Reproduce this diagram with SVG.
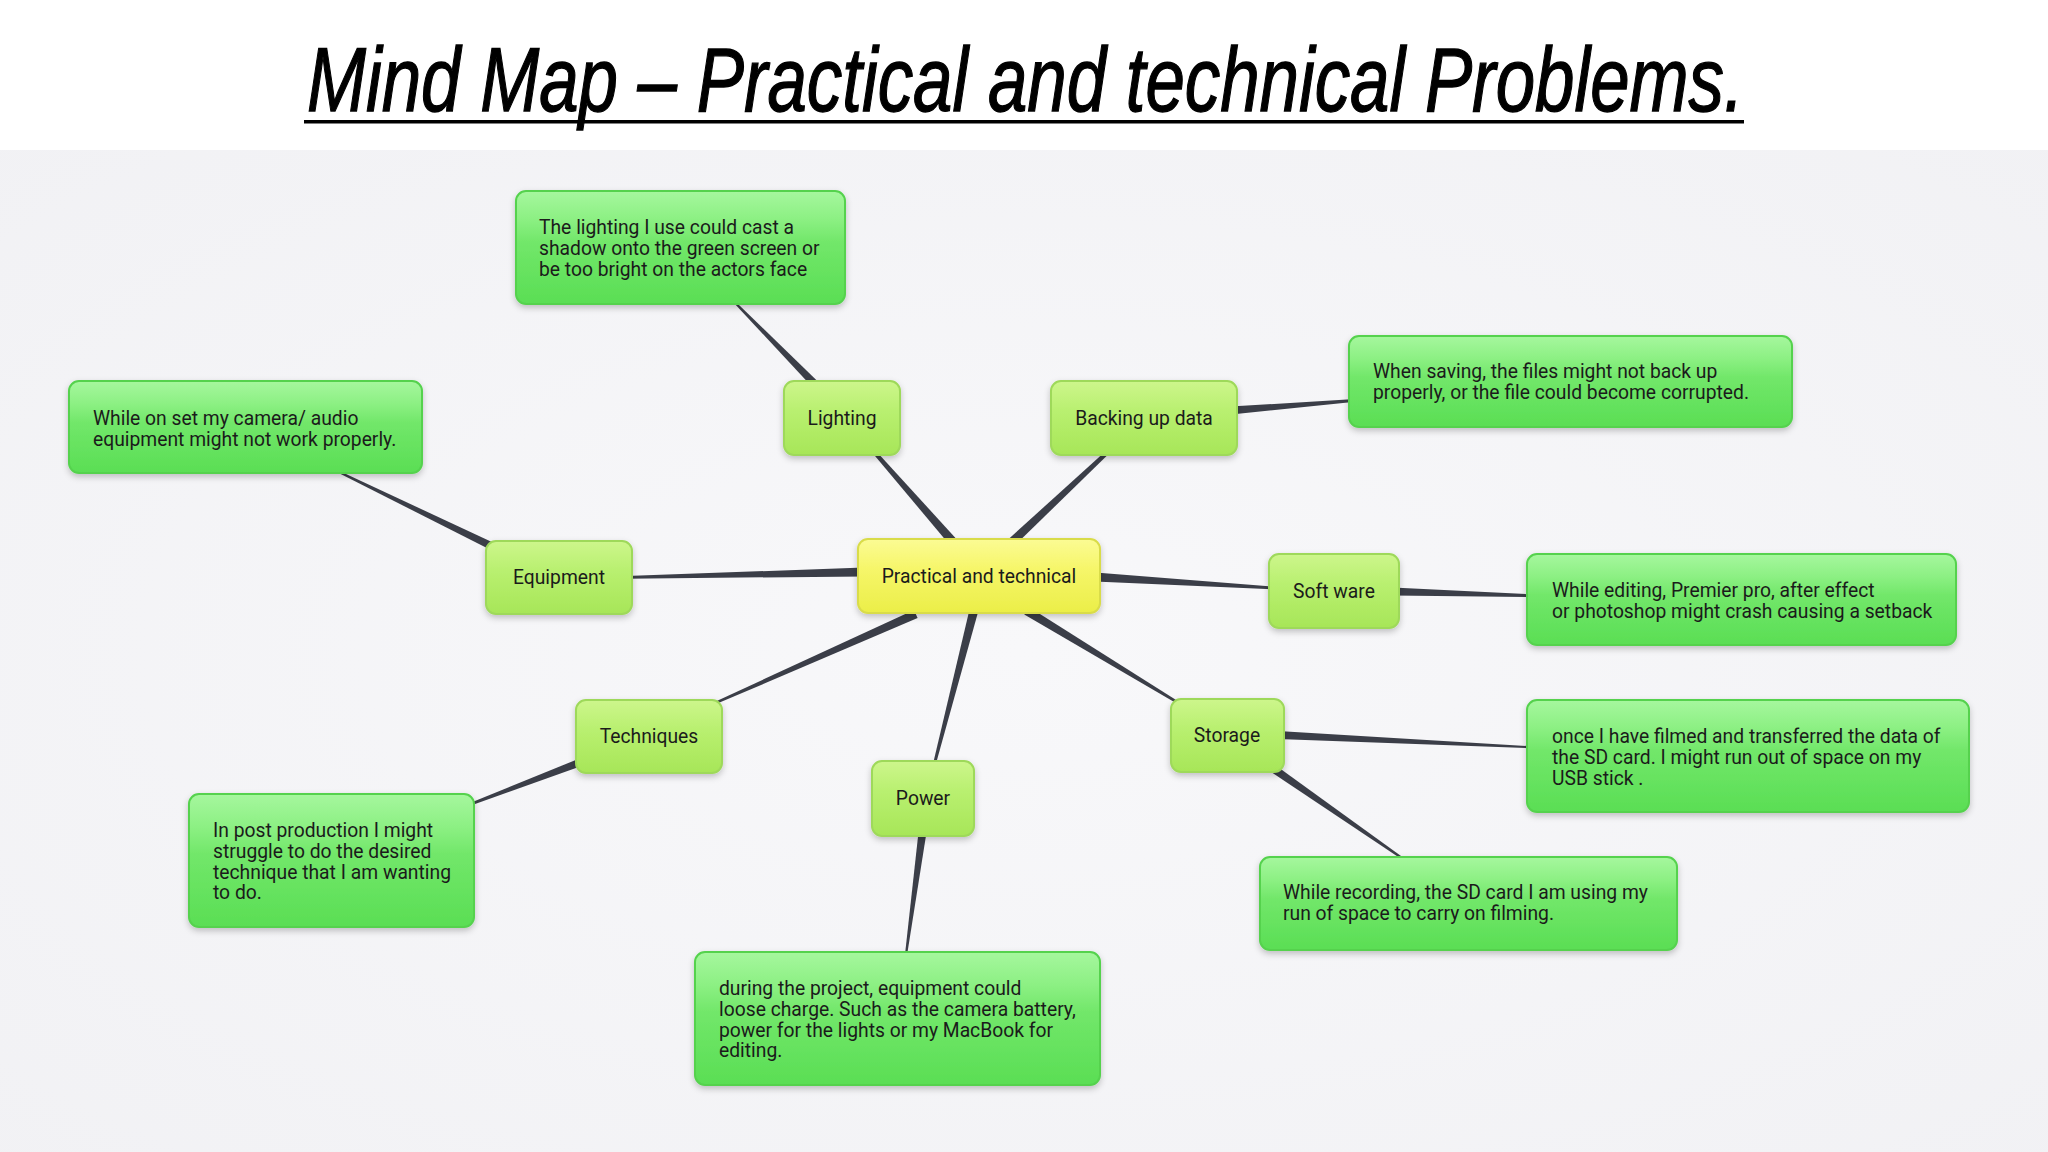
<svg xmlns="http://www.w3.org/2000/svg" width="2048" height="1152" viewBox="0 0 2048 1152">
<defs>
<radialGradient id="bg" cx="0.5" cy="0.5" r="0.75">
<stop offset="0" stop-color="#f8f8fa"/>
<stop offset="1" stop-color="#f1f1f4"/>
</radialGradient>
<linearGradient id="gNote" x1="0" y1="0" x2="0" y2="1">
<stop offset="0" stop-color="#a6f79e"/>
<stop offset="0.25" stop-color="#8cf083"/>
<stop offset="0.45" stop-color="#72e76a"/>
<stop offset="1" stop-color="#5ade54"/>
</linearGradient>
<linearGradient id="gLime" x1="0" y1="0" x2="0" y2="1">
<stop offset="0" stop-color="#cdf68c"/>
<stop offset="0.4" stop-color="#b9f070"/>
<stop offset="1" stop-color="#a7e658"/>
</linearGradient>
<linearGradient id="gCenter" x1="0" y1="0" x2="0" y2="1">
<stop offset="0" stop-color="#fbfb94"/>
<stop offset="0.4" stop-color="#f6f66a"/>
<stop offset="1" stop-color="#ebee48"/>
</linearGradient>
<filter id="sh" x="-10%" y="-20%" width="120%" height="150%">
<feDropShadow dx="0" dy="3" stdDeviation="3" flood-color="#000" flood-opacity="0.22"/>
</filter>
<style>
.note{fill:url(#gNote);stroke:#55d24e;stroke-width:2;filter:url(#sh)}
.lime{fill:url(#gLime);stroke:#9ed95a;stroke-width:2;filter:url(#sh)}
.center{fill:url(#gCenter);stroke:#d9dc4a;stroke-width:2;filter:url(#sh)}
.t{font-family:Roboto,"Liberation Sans",sans-serif;font-size:19.3px;fill:#1b1b1b}
.lbl{font-family:Roboto,"Liberation Sans",sans-serif;font-size:19.3px;fill:#1b1b1b;text-anchor:middle}
.con polygon{fill:#3b3e48}
</style>
</defs>
<rect x="0" y="0" width="2048" height="1152" fill="#ffffff"/>
<rect x="0" y="150" width="2048" height="1002" fill="url(#bg)"/>
<g id="title">
<text transform="translate(307,111) scale(0.787,1)" x="0" y="0" font-family="'Liberation Sans',Arial,sans-serif" font-style="italic" font-size="90" fill="#000" stroke="#000" stroke-width="1.3">Mind Map – Practical and technical Problems.</text>
<rect x="304" y="120" width="1440" height="3.5" fill="#000"/>
</g>
<g id="connectors" class="con">
<polygon points="958.2,540.9 875.1,450.0 872.1,452.6 951.4,546.9"/>
<polygon points="1013.5,546.8 1109.4,453.2 1106.6,450.2 1007.3,540.2"/>
<polygon points="863.9,567.4 626.1,576.1 626.1,578.7 864.1,576.4"/>
<polygon points="1094.7,581.4 1275.3,589.4 1275.5,586.8 1095.3,572.4"/>
<polygon points="914.0,609.9 716.2,701.2 717.2,703.6 917.6,618.1"/>
<polygon points="970.1,606.9 932.3,766.9 934.9,767.5 978.9,609.1"/>
<polygon points="1024.3,614.6 1175.9,702.9 1177.3,700.7 1028.9,606.9"/>
<polygon points="819.4,382.9 734.4,300.6 733.0,302.0 813.6,388.5"/>
<polygon points="1231.1,414.6 1355.2,401.7 1355.0,399.1 1230.5,406.6"/>
<polygon points="498.3,544.9 338.5,470.6 337.7,472.4 494.8,552.1"/>
<polygon points="1392.6,595.4 1532.7,597.0 1532.7,594.4 1392.8,587.4"/>
<polygon points="580.1,758.2 470.6,802.8 471.6,805.2 582.9,765.6"/>
<polygon points="918.8,829.4 904.6,957.9 906.6,958.1 926.8,830.4"/>
<polygon points="1277.6,739.0 1532.7,748.3 1532.8,746.3 1278.0,731.0"/>
<polygon points="1268.8,770.4 1404.3,860.9 1405.5,859.3 1273.4,763.8"/>
</g>
<g id="n-center">
<rect class="center" x="858" y="539" width="242" height="74" rx="10"/>
<text class="lbl" x="979" y="583">Practical and technical</text>
</g>
<g id="n-lighting">
<rect class="lime" x="784" y="381" width="116" height="74" rx="10"/>
<text class="lbl" x="842" y="425">Lighting</text>
</g>
<g id="n-lighting-note">
<rect class="note" x="516" y="191" width="329" height="113" rx="10"/>
<text class="t" x="539" y="234">The lighting I use could cast a</text>
<text class="t" x="539" y="254.8">shadow onto the green screen or</text>
<text class="t" x="539" y="275.6">be too bright on the actors face</text>
</g>
<g id="n-backing">
<rect class="lime" x="1051" y="381" width="186" height="74" rx="10"/>
<text class="lbl" x="1144" y="425">Backing up data</text>
</g>
<g id="n-backing-note">
<rect class="note" x="1349" y="336" width="443" height="91" rx="10"/>
<text class="t" x="1373" y="378">When saving, the files might not back up</text>
<text class="t" x="1373" y="398.8">properly, or the file could become corrupted.</text>
</g>
<g id="n-equipment">
<rect class="lime" x="486" y="541" width="146" height="73" rx="10"/>
<text class="lbl" x="559" y="584">Equipment</text>
</g>
<g id="n-equipment-note">
<rect class="note" x="69" y="381" width="353" height="92" rx="10"/>
<text class="t" x="93" y="425">While on set my camera/ audio</text>
<text class="t" x="93" y="445.8">equipment might not work properly.</text>
</g>
<g id="n-software">
<rect class="lime" x="1269" y="554" width="130" height="74" rx="10"/>
<text class="lbl" x="1334" y="598">Soft ware</text>
</g>
<g id="n-software-note">
<rect class="note" x="1527" y="554" width="429" height="91" rx="10"/>
<text class="t" x="1552" y="597">While editing, Premier pro, after effect</text>
<text class="t" x="1552" y="617.8">or photoshop might crash causing a setback</text>
</g>
<g id="n-techniques">
<rect class="lime" x="576" y="700" width="146" height="73" rx="10"/>
<text class="lbl" x="649" y="743">Techniques</text>
</g>
<g id="n-techniques-note">
<rect class="note" x="189" y="794" width="285" height="133" rx="10"/>
<text class="t" x="213" y="837">In post production I might</text>
<text class="t" x="213" y="857.8">struggle to do the desired</text>
<text class="t" x="213" y="878.6">technique that I am wanting</text>
<text class="t" x="213" y="899.4">to do.</text>
</g>
<g id="n-power">
<rect class="lime" x="872" y="761" width="102" height="75" rx="10"/>
<text class="lbl" x="923" y="805">Power</text>
</g>
<g id="n-power-note">
<rect class="note" x="695" y="952" width="405" height="133" rx="10"/>
<text class="t" x="719" y="995">during the project, equipment could</text>
<text class="t" x="719" y="1015.8">loose charge. Such as the camera battery,</text>
<text class="t" x="719" y="1036.6">power for the lights or my MacBook for</text>
<text class="t" x="719" y="1057.4">editing.</text>
</g>
<g id="n-storage">
<rect class="lime" x="1171" y="699" width="113" height="73" rx="10"/>
<text class="lbl" x="1227" y="742">Storage</text>
</g>
<g id="n-storage-note1">
<rect class="note" x="1527" y="700" width="442" height="112" rx="10"/>
<text class="t" x="1552" y="743">once I have filmed and transferred the data of</text>
<text class="t" x="1552" y="763.8">the SD card. I might run out of space on my</text>
<text class="t" x="1552" y="784.6">USB stick .</text>
</g>
<g id="n-storage-note2">
<rect class="note" x="1260" y="857" width="417" height="93" rx="10"/>
<text class="t" x="1283" y="899">While recording, the SD card I am using my</text>
<text class="t" x="1283" y="919.8">run of space to carry on filming.</text>
</g>
</svg>
